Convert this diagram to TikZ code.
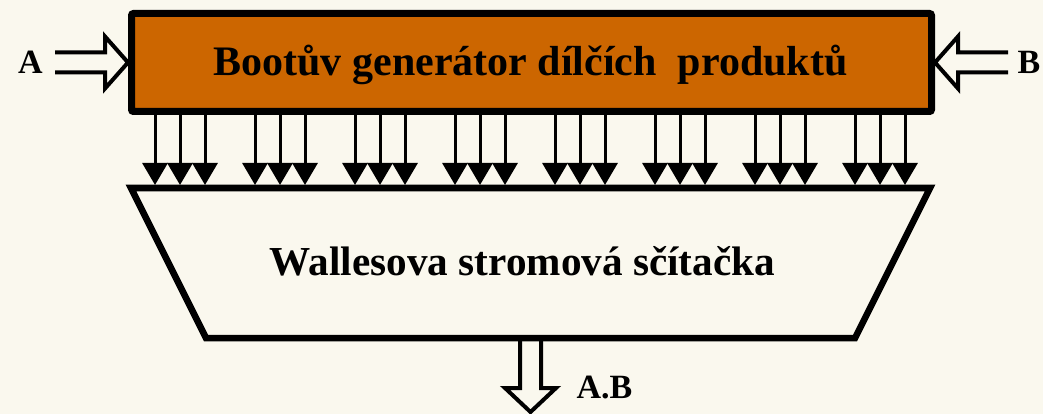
\documentclass[tikz,border=0pt]{standalone}
\usepackage{fontspec}
\setmainfont{Liberation Serif}
\usetikzlibrary{arrows.meta,calc}
\definecolor{bgcream}{HTML}{FAF8EE}
\definecolor{boxorange}{HTML}{CC6600}
\begin{document}
\begin{tikzpicture}[x=1pt,y=-1pt,
  genbox/.style={draw=black, line width=7pt, fill=boxorange, rounded corners=2pt,
                 minimum width=800pt, minimum height=98pt, inner sep=0pt},
  titletext/.style={font=\bfseries\fontsize{42}{48}\selectfont, inner sep=0pt, anchor=base},
  addertext/.style={font=\bfseries\fontsize{41.2}{48}\selectfont, inner sep=0pt, anchor=base},
  lbl/.style={font=\bfseries\fontsize{34}{40}\selectfont, inner sep=0pt, anchor=base},
  bitarrow/.style={line width=3pt, -{Triangle[width=25pt,length=22pt]}, shorten >=3pt},
  hollow/.style={draw=black, line width=4pt, line join=miter},
  trap/.style={draw=black, fill=bgcream, line width=6.5pt, line join=miter}
]
\fill[bgcream] (0,0) rectangle (1043,414);
\useasboundingbox (0,0) rectangle (1043,414);

% generator box
\node[genbox] (gen) at (531.5,62.5) {};
\node[titletext] (gentext) at (530.5,76) {Bootův generátor dílčích\ \ produktů};

% tree adder trapezoid
\coordinate (tl) at (131,188);
\coordinate (tr) at (930,188);
\coordinate (br) at (855,338);
\coordinate (bl) at (206,338);
\draw[trap] (tl) -- (tr) -- (br) -- (bl) -- cycle;
\node[addertext] (waltext) at (522.5,275) {Wallesova stromová sčítačka};

% partial product arrows
\foreach \g in {0,...,7} {
  \foreach \d in {0,25,50} {
    \pgfmathsetmacro\xx{155+100*\g+\d}
    \draw[bitarrow] (gen.south -| \xx,0) -- (tl -| \xx,0);
  }
}

% input A
\node[lbl] (la) at (30.5,74) {A};
\draw[hollow] ([shift={(-73,-10)}]gen.west) -- ++(50,0) -- ++(0,-16) -- (gen.west)
   -- ++(-23,26) -- ++(0,-16) -- ++(-50,0);

% input B
\node[lbl] (lb) at (1029,74) {B};
\draw[hollow] ([shift={(73,-10)}]gen.east) -- ++(-50,0) -- ++(0,-16) -- (gen.east)
   -- ++(23,26) -- ++(0,-16) -- ++(50,0);

% output
\coordinate (outtop) at ($(bl)!0.5!(br)$);
\draw[hollow] ([xshift=-10.5pt]outtop) -- ++(0,50) -- ++(-15,0) -- ++(25.5,24)
   -- ++(25.5,-24) -- ++(-15,0) -- ++(0,-50);
\node[lbl] (lab) at (604.5,398) {A.B};
\end{tikzpicture}
\end{document}
